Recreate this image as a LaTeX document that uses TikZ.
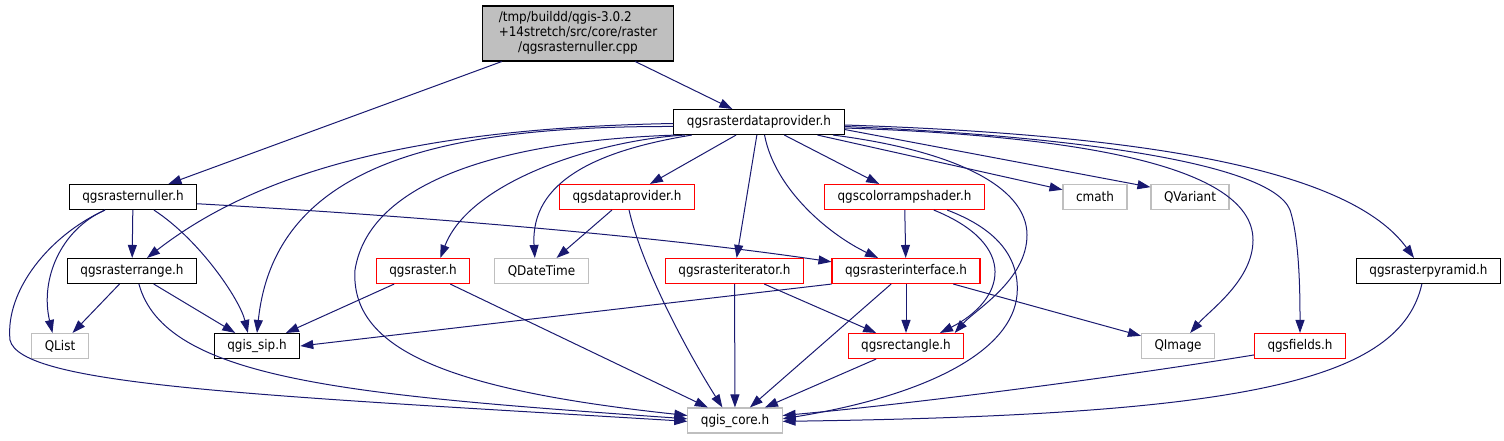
\documentclass[tikz,border=0pt]{standalone}
\usepackage{fontspec}
\setmainfont{DejaVu Sans}[FakeStretch=0.9]
\usetikzlibrary{arrows.meta}
\definecolor{edgeblue}{HTML}{191970}
\definecolor{sysgray}{HTML}{BFBFBF}
\definecolor{hdrred}{HTML}{FF0000}

\begin{document}
\begin{tikzpicture}[x=1pt, y=-1pt,
        hdr/.style={draw=black, line width=1.1pt, fill=white, minimum height=25pt,
            inner xsep=13pt, font=\fontsize{13.33}{15}\selectfont},
        redhdr/.style={hdr, draw=hdrred},
        syshdr/.style={hdr, draw=sysgray},
        inc/.style={draw=edgeblue, line width=1pt, -{Triangle[length=13pt,width=9pt]}}]
        \useasboundingbox (0, 0) rectangle (1504, 440);

        \node[hdr, fill=sysgray, minimum width=191pt, minimum height=55pt] (main) at (578, 33.5) {%
            \begin{tabular}{@{}l@{}}
                /tmp/buildd/qgis-3.0.2 \\
                +14stretch/src/core/raster \\
                \multicolumn{1}{@{}c@{}}{/qgsrasternuller.cpp}
            \end{tabular}};
        \node[hdr] (rdp) at (759, 122) {qgsrasterdataprovider.h};

        \node[hdr] (nuller) at (133, 197) {qgsrasternuller.h};
        \node[redhdr] (dataprov) at (627, 197) {qgsdataprovider.h};
        \node[redhdr] (colorramp) at (904.5, 197) {qgscolorrampshader.h};
        \node[syshdr] (cmath) at (1095, 197) {cmath};
        \node[syshdr] (qvariant) at (1190, 197) {QVariant};

        \node[hdr] (rasterrange) at (132, 271) {qgsrasterrange.h};
        \node[redhdr] (qgsraster) at (423, 271) {qgsraster.h};
        \node[syshdr] (qdatetime) at (541.5, 271) {QDateTime};
        \node[redhdr] (iterator) at (734.5, 271) {qgsrasteriterator.h};
        \node[redhdr] (interface) at (906, 271) {qgsrasterinterface.h};
        \node[hdr] (pyramid) at (1428.5, 271) {qgsrasterpyramid.h};

        \node[syshdr] (qlist) at (60, 346) {QList};
        \node[hdr] (sip) at (257, 346) {qgis\_sip.h};
        \node[redhdr] (rectangle) at (906, 346) {qgsrectangle.h};
        \node[syshdr] (qimage) at (1178, 346) {QImage};
        \node[redhdr] (fields) at (1300, 346) {qgsfields.h};

        \node[syshdr] (core) at (735, 420.5) {qgis\_core.h};

        % the source file
        \draw[inc] (main) -- (nuller);
        \draw[inc] (main) -- (rdp);

        % qgsrasternuller.h
        \draw[inc] (nuller) -- (rasterrange);
        \draw[inc] (nuller.-155) .. controls (60, 230) and (40, 280) .. (qlist.120);
        \draw[inc] (nuller.-155) .. controls (50, 235) and (5, 290) .. (10, 340)
            .. controls (20, 385) and (250, 395) .. (core.181);
        \draw[inc] (nuller.-32) .. controls (200, 240) and (240, 300) .. (sip.125);
        \draw[inc] (nuller.-6) .. controls (400, 215) and (650, 235) .. (interface.173);

        % qgsrasterrange.h
        \draw[inc] (rasterrange) -- (qlist);
        \draw[inc] (rasterrange) -- (sip);
        \draw[inc] (rasterrange.-62) .. controls (165, 380) and (350, 395) .. (core.178);

        % qgsrasterdataprovider.h
        \draw[inc] (rdp.-179) .. controls (420, 128) and (260, 170) .. (rasterrange.41);
        \draw[inc] (rdp.-177) .. controls (450, 126) and (275, 160) .. (sip.north);
        \draw[inc] (rdp.-171) .. controls (520, 140) and (370, 175) .. (355, 270)
            .. controls (350, 350) and (450, 390) .. (core.174);
        \draw[inc] (rdp.-170) .. controls (600, 140) and (470, 180) .. (qgsraster.37);
        \draw[inc] (rdp.-169) .. controls (600, 150) and (530, 180) .. (qdatetime.117);
        \draw[inc] (rdp) -- (dataprov);
        \draw[inc] (rdp) -- (iterator);
        \draw[inc] (rdp.-67) .. controls (775, 190) and (830, 235) .. (interface.155);
        \draw[inc] (rdp) -- (colorramp);
        \draw[inc] (rdp) -- (cmath);
        \draw[inc] (rdp.-5) -- (qvariant.166);
        \draw[inc] (rdp.-10) .. controls (950, 150) and (1027, 185) .. (1027, 235)
            .. controls (1027, 280) and (975, 310) .. (rectangle.15);
        \draw[inc] (rdp.-4) .. controls (1050, 135) and (1253, 160) .. (1253, 240)
            .. controls (1253, 280) and (1210, 310) .. (qimage.47);
        \draw[inc] (rdp.-3) .. controls (1050, 135) and (1270, 160) .. (1290, 210)
            .. controls (1300, 240) and (1300, 300) .. (fields.north);
        \draw[inc] (rdp.-2) .. controls (1150, 135) and (1350, 170) .. (pyramid.138);

        % second row
        \draw[inc] (dataprov) -- (qdatetime);
        \draw[inc] (dataprov.-81) .. controls (640, 260) and (680, 340) .. (core.134);
        \draw[inc] (colorramp) -- (interface);
        \draw[inc] (colorramp.-24) .. controls (1020, 245) and (1005, 300) .. (rectangle.21);
        \draw[inc] (colorramp.-17) .. controls (1000, 230) and (1020, 260) .. (1017, 295)
            .. controls (1012, 350) and (930, 395) .. (core.2);

        % third row
        \draw[inc] (qgsraster) -- (sip);
        \draw[inc] (qgsraster) -- (core);
        \draw[inc] (iterator) -- (rectangle);
        \draw[inc] (iterator) -- (core);
        \draw[inc] (interface.south west) -- (sip.east);
        \draw[inc] (interface) -- (rectangle);
        \draw[inc] (interface) -- (core);
        \draw[inc] (interface) -- (qimage);
        \draw[inc] (pyramid.-117) .. controls (1400, 380) and (1250, 415) .. (core.-1);

        % fourth row
        \draw[inc] (rectangle) -- (core);
        \draw[inc] (fields.191) .. controls (1100, 380) and (900, 405) .. (core.6);
    \end{tikzpicture}
\end{document}
